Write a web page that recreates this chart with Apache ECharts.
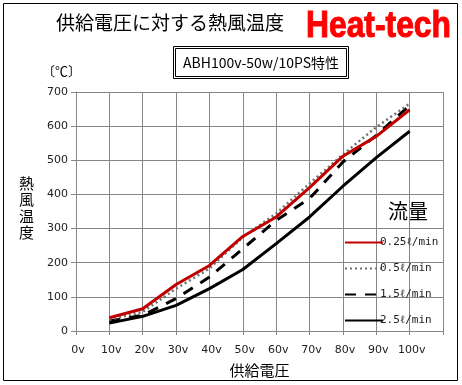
<!DOCTYPE html>
<html><head><meta charset="utf-8">
<script src="https://cdn.jsdelivr.net/npm/echarts@6/dist/echarts.min.js"></script>
<style>html,body{margin:0;padding:0;background:#fff}#c{width:462px;height:385px}</style>
</head><body><div id="c"></div>
<script>
const voltages = [10, 20, 30, 40, 50, 60, 70, 80, 90, 100];
const xTickLabels = ['0v','10v','20v','30v','40v','50v','60v','70v','80v','90v','100v',''];
const seriesNames = ['0.25ℓ/min', '0.5ℓ/min', '1.5ℓ/min', '2.5ℓ/min'];
const flow025 = [39, 65, 136, 192, 277, 334, 420, 512, 570, 648];
const flow05  = [33, 56, 124, 183, 275, 344, 432, 517, 597, 666];
const flow15  = [29, 46, 95, 158, 241, 324, 388, 495, 573, 661];
const flow25  = [23, 43, 75, 124, 180, 256, 334, 424, 508, 585];

const pair = arr => voltages.map((v, i) => [v, arr[i]]);
const chart = echarts.init(document.getElementById('c'));
const jp = '"Noto Sans CJK JP", sans-serif';
chart.setOption({
  animation: false,
  grid: { left: 76, right: 19, top: 92, bottom: 54 },
  xAxis: {
    type: 'value', min: 0, max: 110, interval: 10,
    name: '供給電圧', nameLocation: 'middle', nameGap: 32,
    nameTextStyle: { fontFamily: jp, fontSize: 15, color: '#000' },
    axisLine: { lineStyle: { color: '#868686' } },
    axisTick: { show: true, length: 4, lineStyle: { color: '#868686' } },
    axisLabel: { formatter: v => xTickLabels[Math.round(v / 10)], color: '#222', fontFamily: 'DejaVu Sans', fontSize: 11, margin: 14, padding: [0, 0, 0, 4] },
    splitLine: { lineStyle: { color: '#868686' } }
  },
  yAxis: {
    type: 'value', min: 0, max: 700, interval: 100,
    axisLine: { show: true, lineStyle: { color: '#868686' } },
    axisTick: { show: true, length: 5, lineStyle: { color: '#868686' } },
    axisLabel: { color: '#222', fontFamily: 'DejaVu Sans', fontSize: 11, margin: 8 },
    splitLine: { lineStyle: { color: '#868686' } }
  },
  legend: {
    orient: 'vertical', left: 339, top: 232, itemWidth: 38, itemHeight: 10, itemGap: 15,
    itemStyle: { opacity: 0 },
    textStyle: { fontFamily: 'DejaVu Sans Mono', fontSize: 11, color: '#222', padding: [0,0,0,-8] },
    data: seriesNames
  },
  series: [
    { name: seriesNames[0], type: 'line', data: pair(flow025), symbol: 'none', z: 5, lineStyle: { color: '#c00000', width: 3 }, itemStyle: { color: '#c00000' } },
    { name: seriesNames[1], type: 'line', data: pair(flow05), symbol: 'none', z: 4, lineStyle: { color: '#707070', width: 2.5, type: [2, 3] }, itemStyle: { color: '#707070' } },
    { name: seriesNames[2], type: 'line', data: pair(flow15), symbol: 'none', z: 3, lineStyle: { color: '#000', width: 3, type: [11, 9] }, itemStyle: { color: '#000' } },
    { name: seriesNames[3], type: 'line', data: pair(flow25), symbol: 'none', z: 2, lineStyle: { color: '#000', width: 3 }, itemStyle: { color: '#000' } }
  ],
  graphic: [
    { type: 'rect', shape: { x: 3.5, y: 3.5, width: 454, height: 377 }, style: { fill: null, stroke: '#000', lineWidth: 1 }, silent: true },
    { type: 'text', left: 56, top: 13, style: { text: '供給電圧に対する熱風温度', fontFamily: jp, fontSize: 19, fill: '#000' } },
    { type: 'text', x: 306, y: 8, scaleX: 0.86, style: { text: 'Heat-tech', fontFamily: '"Liberation Sans", Arial, sans-serif', fontWeight: 'bold', fontSize: 37, fill: '#ff0000', stroke: '#ff0000', lineWidth: 1 } },
    { type: 'rect', shape: { x: 173.5, y: 46.5, width: 175, height: 32 }, style: { fill: '#fff', stroke: '#000', lineWidth: 1 } },
    { type: 'rect', shape: { x: 175.5, y: 48.5, width: 171, height: 28 }, style: { fill: null, stroke: '#000', lineWidth: 1 } },
    { type: 'text', x: 261, y: 63, style: { text: 'ABH100v-50w/10PS特性', fontFamily: '"Noto Sans CJK JP", "DejaVu Sans Mono", monospace', fontSize: 14, fill: '#000', align: 'center', verticalAlign: 'middle' } },
    { type: 'text', x: 42, y: 65, style: { text: '〔℃〕', fontFamily: jp, fontSize: 13, fill: '#000' } },
    { type: 'text', x: 19, y: 175, style: { text: '熱\n風\n温\n度', fontFamily: jp, fontSize: 15, lineHeight: 16.5, fill: '#000' } },
    { type: 'text', x: 388, y: 201, style: { text: '流量', fontFamily: jp, fontSize: 20, fill: '#000' } }
  ]
});
</script></body></html>
